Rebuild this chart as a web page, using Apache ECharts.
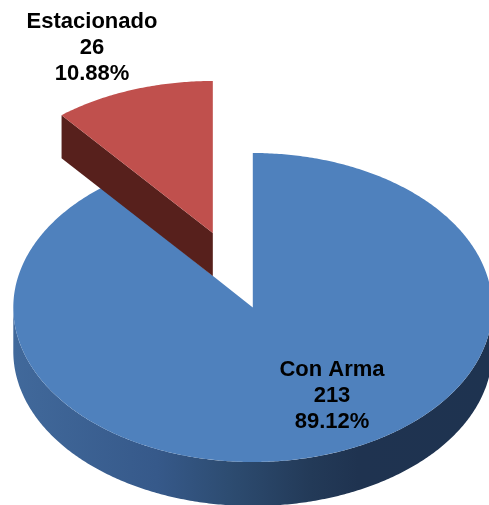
<!DOCTYPE html>
<html>
<head>
<meta charset="utf-8">
<style>html,body{margin:0;padding:0;background:#fff}#c{width:489px;height:505px}</style>
<script src="https://cdn.jsdelivr.net/npm/echarts@6/dist/echarts.min.js"></script>
</head>
<body>
<div id="c"></div>
<script>
const categories = ['Con Arma', 'Estacionado'];
const counts = [213, 26];

const total = counts.reduce((a, b) => a + b, 0);
const RX = 239.5;
const CX = 252.8, CY = 307.5;
const looks = [
  { dx: 0, dy: 0, ry: 154.5, depth: 44, top: '#4f81bd', label: [332, 396] },
  { dx: -40, dy: -74.5, ry: 152, depth: 43, top: '#c0504d', radial: '#57201c', label: [92, 48] }
];
const wall = [
  [0, '#41699b'], [0.3, '#36598a'], [0.45, '#2d4c71'], [0.62, '#233a58'], [0.72, '#1f3350'], [1, '#1e3350']
];

function pt(cx, cy, ry, a) {
  return [cx + RX * Math.sin(a), cy - ry * Math.cos(a)];
}
function arc(cx, cy, ry, a0, a1) {
  const n = Math.max(2, Math.ceil(Math.abs(a1 - a0) / 0.01));
  const out = [];
  for (let i = 0; i <= n; i++) out.push(pt(cx, cy, ry, a0 + (a1 - a0) * i / n));
  return out;
}

function renderItem(params, api) {
  const i = params.dataIndex;
  const before = counts.slice(0, i).reduce((a, b) => a + b, 0);
  const a0 = before / total * 2 * Math.PI;
  const a1 = (before + api.value(0)) / total * 2 * Math.PI;
  const look = looks[i];
  const cx = CX + look.dx, cy = CY + look.dy, ry = look.ry, depth = look.depth;
  const children = [];

  // front wall: the visible part of the rim between 90deg and 270deg
  const w0 = Math.max(a0, Math.PI / 2), w1 = Math.min(a1, Math.PI * 1.5);
  if (w1 > w0) {
    const upper = arc(cx, cy, ry, w0, w1);
    const lower = arc(cx, cy + depth, ry, w1, w0);
    children.push({
      type: 'polygon',
      shape: { points: upper.concat(lower) },
      style: { fill: new echarts.graphic.LinearGradient(0, 0, 1, 0, wall.map(s => ({ offset: s[0], color: s[1] }))) }
    });
  }
  // cut face on the side that looks toward the viewer
  if (look.radial) {
    const tip = pt(cx, cy, ry, a0);
    children.push({
      type: 'polygon',
      shape: { points: [tip, [cx, cy], [cx, cy + depth], [tip[0], tip[1] + depth]] },
      style: { fill: look.radial }
    });
  }
  // top face
  children.push({
    type: 'polygon',
    shape: { points: [[cx, cy]].concat(arc(cx, cy, ry, a0, a1)) },
    style: { fill: look.top }
  });
  // label
  children.push({
    type: 'text',
    style: {
      x: look.label[0], y: look.label[1],
      text: categories[i] + '\n' + api.value(0) + '\n' + (api.value(0) / total * 100).toFixed(2) + '%',
      fill: '#000',
      font: 'bold 22px "Liberation Sans", Arial, sans-serif',
      lineHeight: 26,
      align: 'center',
      verticalAlign: 'middle'
    }
  });
  return { type: 'group', children };
}

const chart = echarts.init(document.getElementById('c'), null, { renderer: 'canvas' });
chart.setOption({
  animation: false,
  backgroundColor: '#fff',
  series: [{
    type: 'custom',
    coordinateSystem: 'none',
    renderItem,
    data: counts.map((v, i) => ({ name: categories[i], value: [v] }))
  }]
});
</script>
</body>
</html>
